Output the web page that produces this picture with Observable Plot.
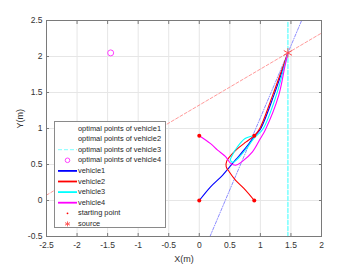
<!DOCTYPE html>
<html><head><meta charset="utf-8">
<script src="https://cdn.jsdelivr.net/npm/d3@7"></script>
<script src="https://cdn.jsdelivr.net/npm/@observablehq/plot@0.6"></script>
<style>
body{margin:0;background:#fff;}
#wrap{position:relative;width:354px;height:266px;font-family:"Liberation Sans",Arial,sans-serif;}
#legend{position:absolute;left:54px;top:121px;width:112px;height:107px;border:1px solid #8a8a8a;background:#fff;box-sizing:border-box;font-size:7.4px;color:#262626;}
#legend .row{position:absolute;left:0;height:10px;line-height:10px;white-space:nowrap;}
#legend .row span{position:absolute;left:23px;}
#legend svg{position:absolute;left:0;top:0;}
</style></head>
<body><div id="wrap"></div>
<script>
// ---- data ----
const xTicks = [-2.5,-2,-1.5,-1,-0.5,0,0.5,1,1.5,2];
const yTicks = [-0.5,0,0.5,1,1.5,2,2.5];
const source = {x:1.45, y:2.05};
const mirrorPoint = {x:-1.45, y:2.05};
const startX = [0, 0.9, 0.9, 0];
const startY = [0, 0, 0.9, 0.9];
const lineRedX = [-2.5, 2], lineRedY = [0.075, 2.325];
const lineBlueX = [0.175, 1.675], lineBlueY = [-0.5, 2.5];
const lineCyanX = [1.45, 1.45], lineCyanY = [-0.5, 2.5];
const v1x = [0, 0.185, 0.38, 0.5, 0.6, 0.76, 0.92, 1.0, 1.22, 1.38, 1.45];
const v1y = [0, 0.19, 0.35, 0.47, 0.57, 0.73, 0.91, 0.99, 1.46, 1.86, 2.05];
const v2x = [0.9, 0.73, 0.595, 0.49, 0.44, 0.45, 0.51, 0.6, 0.76, 0.9, 0.99, 1.20, 1.37, 1.45];
const v2y = [0, 0.167, 0.28, 0.40, 0.47, 0.55, 0.62, 0.70, 0.81, 0.9, 1.0, 1.46, 1.86, 2.05];
const v3x = [0.9, 0.75, 0.62, 0.54, 0.51, 0.55, 0.63, 0.77, 0.9, 1.04, 1.26, 1.39, 1.45];
const v3y = [0.9, 0.86, 0.74, 0.63, 0.56, 0.53, 0.58, 0.72, 0.87, 0.99, 1.46, 1.86, 2.05];
const v4x = [0, 0.185, 0.3, 0.43, 0.51, 0.595, 0.70, 0.87, 1.0, 1.08, 1.30, 1.40, 1.45];
const v4y = [0.9, 0.79, 0.70, 0.61, 0.52, 0.49, 0.54, 0.675, 0.86, 0.98, 1.46, 1.86, 2.05];
const vehicleNames = ["vehicle1","vehicle2","vehicle3","vehicle4"];
const vehicleColors = ["#0000ff","#ff0000","#00ffff","#ff00ff"];

const toPts = (xs, ys, name) => xs.map((x,i)=>({x, y:ys[i], name}));
const traj = [
  ...toPts(v1x, v1y, "vehicle1"),
  ...toPts(v2x, v2y, "vehicle2"),
  ...toPts(v3x, v3y, "vehicle3"),
  ...toPts(v4x, v4y, "vehicle4")
];
const starts = toPts(startX, startY, "start");

const plot = Plot.plot({
  width: 354, height: 266,
  marginLeft: 46, marginRight: 33, marginTop: 20, marginBottom: 30,
  style: {fontFamily: '"Liberation Sans", Arial, sans-serif', fontSize: "8.5px", color: "#333", background: "#fff"},
  x: {domain: [-2.5, 2]},
  y: {domain: [-0.5, 2.5]},
  color: {domain: vehicleNames, range: vehicleColors},
  marks: [
    Plot.gridX(xTicks, {stroke: "#e6e6e6", strokeOpacity: 1}),
    Plot.gridY(yTicks, {stroke: "#e6e6e6", strokeOpacity: 1}),
    Plot.line(toPts(lineRedX, lineRedY), {x:"x", y:"y", stroke:"#ff8080", strokeWidth:0.8, strokeDasharray:"3,2"}),
    Plot.line(toPts(lineBlueX, lineBlueY), {x:"x", y:"y", stroke:"#7070ff", strokeWidth:0.8, strokeDasharray:"3,1.5,1,1.5"}),
    Plot.line(toPts(lineCyanX, lineCyanY), {x:"x", y:"y", stroke:"#80ffff", strokeWidth:1.6, strokeDasharray:"4,2"}),
    Plot.line(traj, {x:"x", y:"y", z:"name", stroke:"name", strokeWidth:1.1, curve:"catmull-rom"}),
    Plot.dot(starts, {x:"x", y:"y", r:2, fill:"#ff0000"}),
    Plot.dot([mirrorPoint], {x:"x", y:"y", r:3, stroke:"#ff40ff", strokeWidth:1}),
    Plot.dot([source], {x:"x", y:"y", r:4.5, symbol:"asterisk", stroke:"#ff5050", strokeWidth:1}),
    Plot.frame({stroke:"#7a7a7a"}),
    Plot.axisX({ticks: xTicks, anchor:"bottom", tickSize:-3, tickPadding:8, stroke:"#7a7a7a", tickFormat: d=>String(d), label:null}),
    Plot.axisX({ticks: xTicks, anchor:"top", tickSize:-3, tickFormat: () => "", stroke:"#7a7a7a", label:null}),
    Plot.axisY({ticks: yTicks, anchor:"left", tickSize:-3, tickPadding:7, stroke:"#7a7a7a", tickFormat: d=>String(d), label:null}),
    Plot.axisY({ticks: yTicks, anchor:"right", tickSize:-3, tickFormat: () => "", stroke:"#7a7a7a", label:null}),
    Plot.text(["X(m)"], {frameAnchor:"bottom", dy:25, fontSize:9}),
    Plot.text(["Y(m)"], {frameAnchor:"left", dx:-26, rotate:-90, fontSize:9})
  ]
});
const wrap = document.getElementById("wrap");
wrap.appendChild(plot);

// legend
const legendItems = [
  {label:"optimal points of vehicle1", kind:"none"},
  {label:"optimal points of vehicle2", kind:"none"},
  {label:"optimal points of vehicle3", kind:"dash", color:"#80ffff"},
  {label:"optimal points of vehicle4", kind:"circle", color:"#ff40ff"},
  {label:"vehicle1", kind:"line", color:vehicleColors[0]},
  {label:"vehicle2", kind:"line", color:vehicleColors[1]},
  {label:"vehicle3", kind:"line", color:vehicleColors[2]},
  {label:"vehicle4", kind:"line", color:vehicleColors[3]},
  {label:"starting point", kind:"dot", color:"#ff0000"},
  {label:"source", kind:"star", color:"#ff5050"}
];
const lg = document.createElement("div"); lg.id="legend";
const ns="http://www.w3.org/2000/svg";
const sv = document.createElementNS(ns,"svg"); sv.setAttribute("width",112); sv.setAttribute("height",107);
legendItems.forEach((it,i)=>{
  const cy = 6.5 + i*10.6;
  const row = document.createElement("div"); row.className="row"; row.style.top=(cy-5)+"px";
  const sp = document.createElement("span"); sp.textContent=it.label; row.appendChild(sp); lg.appendChild(row);
  if(it.kind==="line"||it.kind==="dash"){
    const l=document.createElementNS(ns,"line");
    l.setAttribute("x1",3);l.setAttribute("x2",22);l.setAttribute("y1",cy);l.setAttribute("y2",cy);
    l.setAttribute("stroke",it.color);l.setAttribute("stroke-width",it.kind==="line"?1.8:1);
    if(it.kind==="dash") l.setAttribute("stroke-dasharray","4,2");
    sv.appendChild(l);
  } else if(it.kind==="circle"){
    const c=document.createElementNS(ns,"circle");c.setAttribute("cx",12.5);c.setAttribute("cy",cy);c.setAttribute("r",2.3);
    c.setAttribute("fill","none");c.setAttribute("stroke",it.color);sv.appendChild(c);
  } else if(it.kind==="dot"){
    const c=document.createElementNS(ns,"circle");c.setAttribute("cx",12.5);c.setAttribute("cy",cy);c.setAttribute("r",0.9);
    c.setAttribute("fill",it.color);sv.appendChild(c);
  } else if(it.kind==="star"){
    const p=document.createElementNS(ns,"path");
    p.setAttribute("d",`M12.5,${cy-2.5}V${cy+2.5}M10,${cy-1.3}L15,${cy+1.3}M10,${cy+1.3}L15,${cy-1.3}`);
    p.setAttribute("stroke",it.color);p.setAttribute("stroke-width",0.9);sv.appendChild(p);
  }
});
lg.insertBefore(sv, lg.firstChild);
wrap.appendChild(lg);
</script></body></html>
